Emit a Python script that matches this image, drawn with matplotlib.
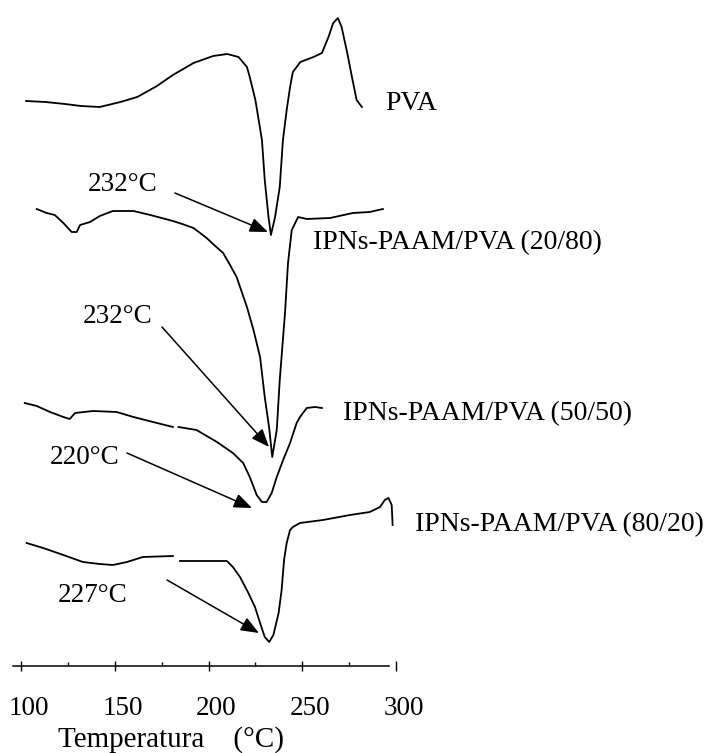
import matplotlib.pyplot as plt
import matplotlib.transforms as mtransforms
import numpy as np

plt.rcParams["font.family"] = ["Liberation Serif", "DejaVu Serif"]

nan = np.nan

# DSC traces, temperature (°C) vs heat flow (a.u., curves already offset)
pva_t = [102.7, 113, 123.5, 132, 142, 153, 162, 172.5, 181, 192, 202.5, 210,
         216, 220.5, 222, 225, 226.5, 228.5, 230, 232, 233.3, 235.5, 238,
         239.7, 241.7, 243.5, 245, 249, 256, 260.5, 264, 266.5, 269, 271, 274,
         276.5, 279, 281.8]
pva_hf = [56.5, 56.4, 56.2, 56.0, 55.9, 56.4, 56.9, 58.0, 59.1, 60.3, 61.0,
          61.2, 60.9, 59.9, 58.9, 56.6, 54.9, 52.6, 48.6, 44.9, 43.1, 44.9,
          47.9, 52.6, 55.6, 57.9, 59.4, 60.4, 60.9, 61.3, 62.9, 64.3, 64.8,
          63.9, 61.3, 58.9, 56.6, 55.9]

ipn2080_t = [108.4, 113.7, 118, 122.6, 127, 129.7, 131.5, 136.8, 142, 149, 160,
             169, 175, 181, 186, 192, 199, 203, 207.8, 211.5, 215, 220.5, 224,
             227.5, 230, 232.3, 234, 236.4, 238, 240.8, 242.4, 244.4, 247.8,
             252.4, 264.8, 277, 286, 293]
ipn2080_hf = [45.7, 45.3, 45.1, 44.3, 43.4, 43.4, 44.1, 44.4, 45.0, 45.5, 45.5,
              45.1, 44.8, 44.5, 44.2, 43.8, 42.8, 42.1, 41.3, 40.1, 38.9, 35.9,
              33.6, 30.9, 26.9, 23.9, 20.9, 23.6, 28.6, 35.3, 40.3, 43.6, 44.9,
              44.7, 44.8, 45.3, 45.4, 45.7]

ipn5050_t = [102, 108.4, 115.5, 122.6, 126, 128.8, 138.4, 151, 160, 170.4, 181,
             182.5, 184, 193.6, 204.5, 213, 218.5, 222, 225.7, 228.5, 231, 233.7,
             236.4, 239.8, 243.5, 247, 248.8, 252.4, 256.8, 260.5]
ipn5050_hf = [26.3, 26.0, 25.4, 24.9, 24.7, 25.3, 25.5, 25.4, 24.9, 24.4, 23.9,
              nan, 23.9, 23.6, 22.4, 21.3, 20.3, 18.9, 17.1, 16.4, 16.4, 17.3,
              18.9, 20.6, 22.3, 24.3, 24.9, 25.8, 25.9, 25.8]

ipn8020_t = [103, 111.8, 122.6, 133, 142, 149, 156.5, 165, 181, 183, 184.8,
             209.8, 213, 216.8, 221, 224.8, 227.5, 230, 232.4, 234.6, 237.4, 239,
             240.3, 241.7, 243.5, 245, 248.8, 261, 275.5, 286, 291.5, 294, 296,
             297.7, 298.2]
ipn8020_hf = [12.3, 11.8, 11.1, 10.4, 10.2, 10.1, 10.4, 10.9, 11.0, nan, 10.5,
              10.5, 9.9, 8.9, 7.4, 5.9, 4.3, 2.9, 2.4, 3.1, 5.3, 7.6, 10.6, 12.3,
              13.6, 13.9, 14.3, 14.6, 15.1, 15.4, 15.9, 16.6, 16.8, 16.1, 14.1]

curve_names = ["PVA", "IPNs-PAAM/PVA (20/80)", "IPNs-PAAM/PVA (50/50)",
               "IPNs-PAAM/PVA (80/20)"]
name_pos = [(294.1, 56.2), (255.7, 42.3), (271.7, 25.2), (310.1, 14.1)]

peak_labels = ["232°C", "232°C", "220°C", "227°C"]
peak_label_pos = [(135.7, 48.1), (133.1, 34.9), (115.5, 20.8), (119.7, 7.1)]
arrow_start = [(182.1, 47.3), (175.2, 33.9), (156.5, 21.3), (177.9, 8.6)]
arrow_tip = [(231.7, 43.4), (232.3, 21.9), (223.2, 15.8), (226.9, 3.3)]

x_ticks = [100, 150, 200, 250, 300]
x_minor = [125, 175, 225, 275]

fig = plt.figure(figsize=(7.24, 7.53), dpi=100)
ax = fig.add_axes([0, 87 / 753, 1, 666 / 753])

for t, hf in [(pva_t, pva_hf), (ipn2080_t, ipn2080_hf),
              (ipn5050_t, ipn5050_hf), (ipn8020_t, ipn8020_hf)]:
    ax.plot(t, hf, color="black", linewidth=1.3)

for name, (x, y) in zip(curve_names, name_pos):
    ax.text(x, y, name, fontsize=20, ha="left", va="center")

for lab, (x, y) in zip(peak_labels, peak_label_pos):
    ax.text(x, y, lab, fontsize=19.5, ha="left", va="center")

for s, e in zip(arrow_start, arrow_tip):
    ax.annotate(
        "",
        xy=e,
        xytext=s,
        arrowprops=dict(
            arrowstyle="-|>,head_length=0.55,head_width=0.22",
            color="black",
            lw=1.1,
            mutation_scale=20,
            shrinkA=0,
            shrinkB=0,
        ),
    )

ax.set_xlim(100 - 21 / 1.875, 100 + 703 / 1.875)
ax.set_ylim(0, 66.6)

for side in ["left", "right", "top"]:
    ax.spines[side].set_visible(False)
ax.spines["bottom"].set_bounds(95.7, 296)
ax.spines["bottom"].set_linewidth(1.1)
ax.set_yticks([])
ax.set_xticks(x_ticks)
ax.set_xticks(x_minor, minor=True)
ax.tick_params(axis="x", which="major", direction="inout", length=7, width=1,
               labelsize=19.5, pad=18)
ax.tick_params(axis="x", which="minor", direction="in", length=3, width=1)

offset = mtransforms.ScaledTranslation(8 / 100, 0, fig.dpi_scale_trans)
for lbl in ax.get_xticklabels():
    lbl.set_transform(lbl.get_transform() + offset)

ax.text(171.5 / 1.875 + 100 - 21 / 1.875, -0.11, "Temperatura    (°C)",
        fontsize=21, ha="center", va="center",
        transform=ax.get_xaxis_transform())

plt.savefig("out.png", dpi=100)
